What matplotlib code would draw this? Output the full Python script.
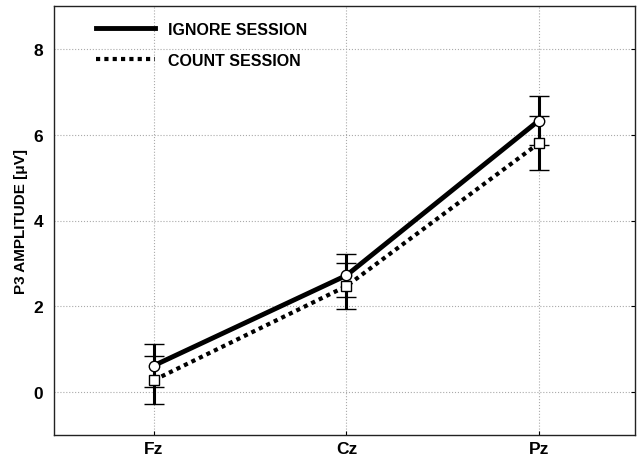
import numpy as np
import matplotlib
matplotlib.use("Agg")
import matplotlib.pyplot as plt
from matplotlib.lines import Line2D

# electrodes and P3 amplitude (uV)
electrodes = ["Fz", "Cz", "Pz"]
ignore_mean = [0.62, 2.72, 6.33]
ignore_err = [0.50, 0.50, 0.57]
count_mean = [0.28, 2.47, 5.80]
count_err = [0.56, 0.53, 0.63]

plt.rcParams['font.family'] = ['Liberation Sans', 'DejaVu Sans']
plt.rcParams['font.weight'] = 'bold'

fig = plt.figure(figsize=(6.38, 4.6), dpi=100)
ax = fig.add_axes([54/638, 24/460, 581/638, 429/460])

x = np.arange(len(electrodes))

ax.errorbar(x, ignore_mean, yerr=ignore_err, color='black', lw=3.5,
            ecolor='black', elinewidth=2.2, capsize=7.5, capthick=2.2,
            marker='o', ms=7.5, mfc='white', mec='black', mew=1,
            label='IGNORE SESSION', zorder=3)
ax.errorbar(x, count_mean, yerr=count_err, color='black', lw=3, ls=(0, (1, 1)),
            ecolor='black', elinewidth=2.2, capsize=7.5, capthick=2.2,
            marker='s', ms=7.5, mfc='white', mec='black', mew=1,
            label='COUNT SESSION', zorder=3)

ax.set_xlim(-0.52, 2.5)
ax.set_ylim(-1, 9)
ax.set_xticks(x)
ax.set_xticklabels(electrodes, fontsize=12.5, fontweight='bold')
ax.set_yticks([0, 2, 4, 6, 8])
ax.set_yticklabels(['0', '2', '4', '6', '8'], fontsize=12.5, fontweight='bold')
ax.tick_params(axis='x', direction='in', length=3, pad=4)
ax.tick_params(axis='y', direction='in', length=3, pad=8, left=False, right=True)
ax.grid(True, color='#aaaaaa', ls=':', lw=0.8)
ax.set_ylabel('P3 AMPLITUDE [\u03bcV]', fontsize=11, fontweight='bold', labelpad=4)

for s in ax.spines.values():
    s.set_linewidth(1)
    s.set_color('#222222')

labels = ['IGNORE SESSION', 'COUNT SESSION']
h = [Line2D([], [], color='black', lw=3.5),
     Line2D([], [], color='black', lw=3, ls=(0, (1, 1)))]
ax.legend(h, labels, loc='upper left', frameon=False,
          handlelength=3.7, handletextpad=0.8, bbox_to_anchor=(0.045, 1.0),
          labelspacing=1.0, borderaxespad=0.6,
          prop={'weight': 'bold', 'size': 11.5})

fig.savefig('out.png', dpi=100)
